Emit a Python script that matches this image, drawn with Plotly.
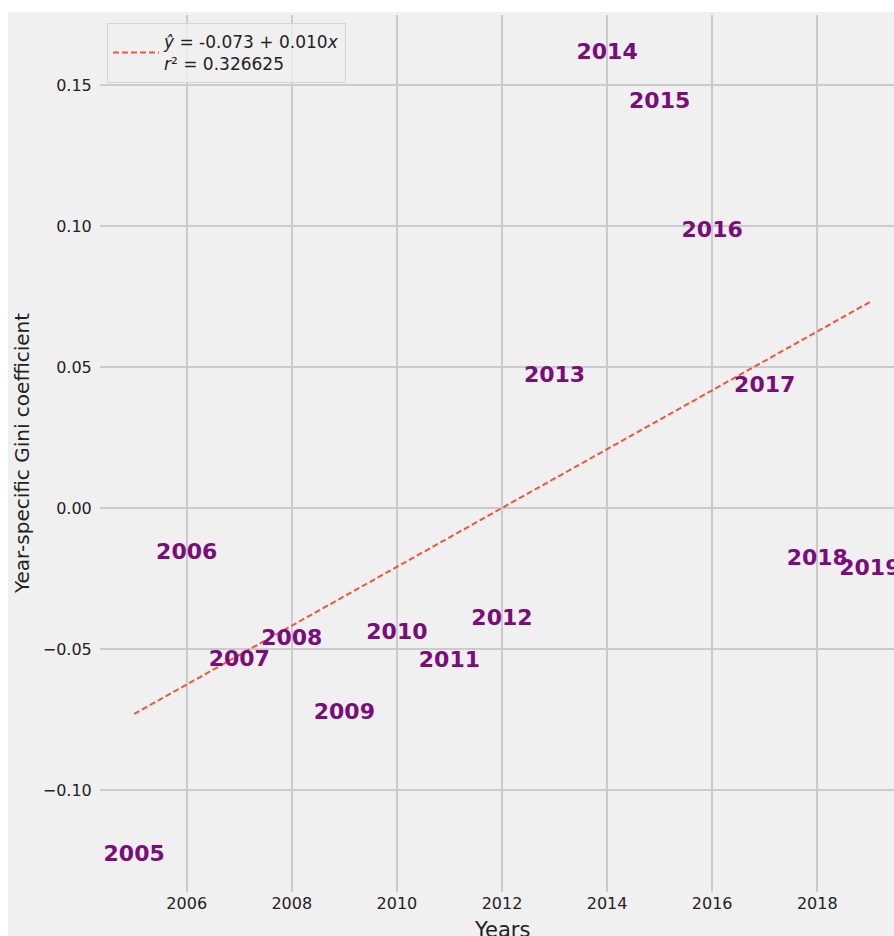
import numpy as np
import plotly.graph_objects as go

# Year-specific Gini coefficients
years = [2005, 2006, 2007, 2008, 2009, 2010, 2011, 2012,
         2013, 2014, 2015, 2016, 2017, 2018, 2019]
gini = [-0.1233, -0.0163, -0.0541, -0.0467, -0.0728, -0.0446, -0.0546, -0.0394,
        0.0465, 0.1610, 0.1436, 0.0979, 0.0429, -0.0184, -0.0220]

x_ticks = [2006, 2008, 2010, 2012, 2014, 2016, 2018]
y_ticks = [-0.10, -0.05, 0.00, 0.05, 0.10, 0.15]
y_ticktext = ["−0.10", "−0.05", "0.00", "0.05", "0.10", "0.15"]

legend_label = "<i>ŷ</i> = -0.073 + 0.010<i>x</i><br><i>r</i>² = 0.326625"

# Linear trend over the year index
idx = np.arange(len(years))
slope, intercept = np.polyfit(idx, np.array(gini), 1)
trend = intercept + slope * idx

W, H = 894, 936
L, R, T, B = 100, 0, 15, 44
pw, ph = W - L - R, H - T - B

def px_x(p):
    return (p - L) / pw

def px_y(p):
    return (H - B - p) / ph

BG = "#f0f0f0"
FONT = "DejaVu Sans"
TXT = "#222222"

fig = go.Figure()

fig.add_trace(go.Scatter(
    x=[years[0], years[-1]], y=[trend[0], trend[-1]],
    mode="lines",
    line=dict(color="#f2553a", width=2, dash="6px,3px"),
    name=legend_label,
    hoverinfo="skip",
))

fig.add_trace(go.Scatter(
    x=years, y=gini,
    mode="text",
    text=[str(y) for y in years],
    textposition="middle center",
    textfont=dict(family=FONT, size=22, color="#7b0c7b", weight="bold"),
    showlegend=False,
    cliponaxis=True,
))

fig.update_layout(
    width=W, height=H,
    margin=dict(l=L, r=R, t=T, b=B, pad=0),
    paper_bgcolor="white",
    plot_bgcolor=BG,
    font=dict(family=FONT, size=16, color=TXT),
    showlegend=True,
    legend=dict(
        x=px_x(107), y=px_y(23), xanchor="left", yanchor="top",
        bgcolor="rgba(240,240,240,0.8)", bordercolor="#d4d4d4", borderwidth=1,
        font=dict(family=FONT, size=17, color=TXT),
        itemwidth=46,
    ),
    xaxis=dict(
        range=[2004.35, 2019.46],
        tickvals=x_ticks,
        showgrid=True, gridcolor="#cbcbcb", gridwidth=1.6,
        zeroline=False, showline=False,
        ticks="",
        tickfont=dict(size=16, color=TXT),
    ),
    yaxis=dict(
        range=[-0.1362, 0.1748],
        tickvals=y_ticks, ticktext=y_ticktext,
        showgrid=True, gridcolor="#cbcbcb", gridwidth=1.6,
        zeroline=False, showline=False,
        ticks="outside", ticklen=4, tickcolor="rgba(0,0,0,0)",
        tickfont=dict(size=16, color=TXT),
    ),
    shapes=[dict(
        type="rect", xref="paper", yref="paper",
        x0=px_x(8), x1=1.0, y0=px_y(H), y1=px_y(12),
        fillcolor=BG, line=dict(width=0), layer="below",
    )],
    annotations=[
        dict(text="Years", xref="x", yref="paper", x=2012, y=px_y(930),
             xanchor="center", yanchor="middle", showarrow=False,
             font=dict(family=FONT, size=21, color=TXT)),
        dict(text="Year-specific Gini coefficient", xref="paper", yref="paper",
             x=px_x(22), y=px_y(454), xanchor="center", yanchor="middle",
             textangle=-90, showarrow=False,
             font=dict(family=FONT, size=20, color=TXT)),
    ],
)

fig.write_html("out.html")
